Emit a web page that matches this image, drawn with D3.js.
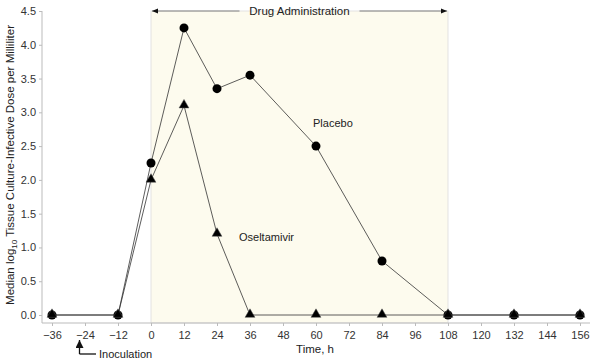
<!DOCTYPE html>
<html>
<head>
<meta charset="utf-8">
<script src="https://cdn.jsdelivr.net/npm/d3@7"></script>
<style>
  body { margin: 0; background: #fff; }
  svg { font-family: "Liberation Sans", Arial, sans-serif; }
  .axis text { font-size: 11px; fill: #333; }
  .axis path, .axis line { stroke: #bbb; }
</style>
</head>
<body>
<svg id="chart" width="590" height="361"></svg>
<script>
// hours after first dose
var hours = [-36, -12, 0, 12, 24, 36, 60, 84, 108, 132, 156];
var placebo = [0, 0, 2.25, 4.25, 3.35, 3.55, 2.5, 0.8, 0, 0, 0];
var oseltamivir = [0, 0, 2.0, 3.1, 1.2, 0, 0, 0, 0, 0, 0];
var xTicks = [-36, -24, -12, 0, 12, 24, 36, 48, 60, 72, 84, 96, 108, 120, 132, 144, 156];
var yTicks = [0, 0.5, 1, 1.5, 2, 2.5, 3, 3.5, 4, 4.5];
var drugStart = 0, drugEnd = 108, inoculation = -26;

var svg = d3.select('#chart');

var x = d3.scaleLinear().domain([-36, 156]).range([52, 580]);
var y = d3.scaleLinear().domain([0, 4.5]).range([315, 11]);

// shaded drug period
svg.append('rect')
  .attr('x', x(drugStart))
  .attr('y', y(4.5))
  .attr('width', x(drugEnd) - x(drugStart))
  .attr('height', 323 - y(4.5))
  .attr('fill', '#fdfbee')
  .attr('stroke', '#ddd')
  .attr('stroke-width', 0.8);

// Y axis
svg.append('g')
  .attr('class', 'axis')
  .attr('transform', 'translate(42,0)')
  .call(d3.axisLeft(y).tickValues(yTicks).tickFormat(d3.format('.1f')).tickSize(3).tickSizeOuter(0))
  .call(function(g) { g.select('.domain').attr('d', 'M0,' + y(4.5) + 'V323'); });

// X axis
svg.append('g')
  .attr('class', 'axis')
  .attr('transform', 'translate(0,323)')
  .call(d3.axisBottom(x).tickValues(xTicks).tickFormat(function(d) { return d < 0 ? '\u2212' + (-d) : d; }).tickSize(3).tickSizeOuter(0))
  .call(function(g) { g.select('.domain').attr('d', 'M42,0H590'); })
  .selectAll('text').attr('dy', '0.9em');

// arrow markers
var defs = svg.append('defs');
defs.append('marker')
  .attr('id', 'arr')
  .attr('viewBox', '0 0 10 10')
  .attr('refX', 10).attr('refY', 5)
  .attr('markerWidth', 7).attr('markerHeight', 6)
  .attr('markerUnits', 'userSpaceOnUse')
  .attr('orient', 'auto-start-reverse')
  .append('path').attr('d', 'M0,1L10,5L0,9Z').attr('fill', '#111');
defs.append('marker')
  .attr('id', 'arrBig')
  .attr('viewBox', '0 0 10 10')
  .attr('refX', 10).attr('refY', 5)
  .attr('markerWidth', 8).attr('markerHeight', 8)
  .attr('markerUnits', 'userSpaceOnUse')
  .attr('orient', 'auto')
  .append('path').attr('d', 'M0,0L10,5L0,10Z').attr('fill', '#111');

// drug administration arrow
var mid = (x(drugStart) + x(drugEnd)) / 2;
svg.append('line')
  .attr('x1', x(drugStart) + 1).attr('x2', mid - 60)
  .attr('y1', y(4.5)).attr('y2', y(4.5))
  .attr('stroke', '#666').attr('stroke-width', 0.8)
  .attr('marker-start', 'url(#arr)');
svg.append('line')
  .attr('x1', mid + 60).attr('x2', x(drugEnd) - 1)
  .attr('y1', y(4.5)).attr('y2', y(4.5))
  .attr('stroke', '#666').attr('stroke-width', 0.8)
  .attr('marker-end', 'url(#arr)');
svg.append('text')
  .attr('x', mid).attr('y', y(4.5) + 4)
  .attr('text-anchor', 'middle')
  .attr('font-size', 11.5).attr('fill', '#222')
  .text('Drug Administration');

// series lines
var line = d3.line()
  .x(function(d, i) { return x(hours[i]); })
  .y(function(d) { return y(d); });

[oseltamivir, placebo].forEach(function(s) {
  svg.append('path')
    .datum(s)
    .attr('fill', 'none')
    .attr('stroke', '#333')
    .attr('stroke-width', 0.8)
    .attr('d', line);
});

// placebo circles
svg.append('g').selectAll('circle')
  .data(placebo)
  .join('circle')
  .attr('cx', function(d, i) { return x(hours[i]); })
  .attr('cy', function(d) { return y(d); })
  .attr('r', 4.5)
  .attr('fill', '#000');

// oseltamivir triangles
var tri = d3.symbol().type(d3.symbolTriangle).size(42);
svg.append('g').selectAll('path')
  .data(oseltamivir)
  .join('path')
  .attr('d', tri)
  .attr('transform', function(d, i) { return 'translate(' + x(hours[i]) + ',' + (y(d) - 0.5) + ')'; })
  .attr('fill', '#000')
  .attr('stroke', '#555')
  .attr('stroke-width', 0.5);

// series labels
svg.append('text')
  .attr('x', 313).attr('y', 127)
  .attr('font-size', 11).attr('fill', '#222')
  .text('Placebo');
svg.append('text')
  .attr('x', 239).attr('y', 241)
  .attr('font-size', 11).attr('fill', '#222')
  .text('Oseltamivir');

// axis titles
svg.append('text')
  .attr('x', 315).attr('y', 353)
  .attr('text-anchor', 'middle')
  .attr('font-size', 11.5).attr('fill', '#222')
  .text('Time, h');

var yl = svg.append('text')
  .attr('transform', 'translate(14,165) rotate(-90)')
  .attr('text-anchor', 'middle')
  .attr('font-size', 11.5).attr('fill', '#222');
yl.append('tspan').text('Median log');
yl.append('tspan').attr('font-size', 8).attr('dy', 3).text('10');
yl.append('tspan').attr('dy', -3).text(' Tissue Culture-Infective Dose per Milliliter');

// inoculation pointer
var ix = x(inoculation);
svg.append('path')
  .attr('d', 'M' + ix + ',354V' + 340)
  .attr('stroke', '#111').attr('stroke-width', 1.3).attr('fill', 'none')
  .attr('marker-end', 'url(#arrBig)');
svg.append('path')
  .attr('d', 'M' + ix + ',354H' + 96)
  .attr('stroke', '#111').attr('stroke-width', 1.3).attr('fill', 'none');
svg.append('text')
  .attr('x', 99).attr('y', 358)
  .attr('font-size', 11).attr('fill', '#222')
  .text('Inoculation');
</script>
</body>
</html>
